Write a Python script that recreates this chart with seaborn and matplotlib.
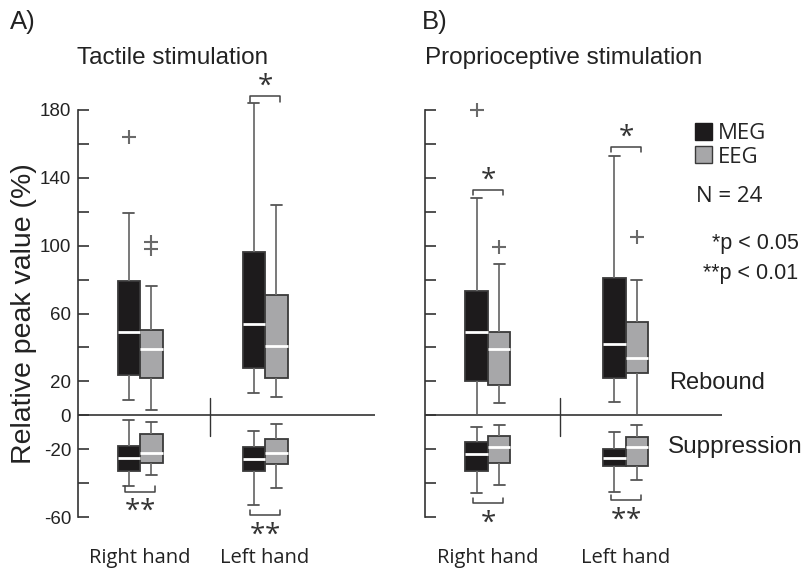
import matplotlib
matplotlib.use("Agg")
import matplotlib.pyplot as plt
from matplotlib.patches import Patch
import pandas as pd
import seaborn as sns

hands = ["Right hand", "Left hand"]
modalities = ["MEG", "EEG"]

# five-number summaries per hand: [whisker low, Q1, median, Q3, whisker high]
tactile_rebound_meg = [[9, 24, 49, 79, 119], [13, 28, 54, 96, 184]]
tactile_rebound_eeg = [[3, 22, 39, 50, 76], [11, 22, 41, 71, 124]]
tactile_suppr_meg = [[-42, -33, -25, -18, -3], [-53, -33, -26, -19, -9]]
tactile_suppr_eeg = [[-35, -28, -22, -11, -4], [-43, -29, -22, -14, -5]]

proprio_rebound_meg = [[0, 20, 49, 73, 128], [8, 22, 42, 81, 153]]
proprio_rebound_eeg = [[7, 18, 39, 49, 89], [0, 25, 34, 55, 80]]
proprio_suppr_meg = [[-46, -33, -23, -16, -7], [-45, -30, -25, -20, -10]]
proprio_suppr_eeg = [[-41, -28, -19, -12, -6], [-38, -30, -19, -13, -6]]

# outliers
tactile_out_hand = ["Right hand", "Right hand", "Right hand"]
tactile_out_mod = ["MEG", "EEG", "EEG"]
tactile_out_val = [164, 102, 98]
proprio_out_hand = ["Right hand", "Right hand", "Left hand"]
proprio_out_mod = ["MEG", "EEG", "EEG"]
proprio_out_val = [180, 99, 105]

# significance brackets
tactile_sig_hand = ["Left hand", "Right hand", "Left hand"]
tactile_sig_y = [188, -45, -59]
tactile_sig_label = ["*", "**", "**"]
proprio_sig_hand = ["Right hand", "Right hand", "Left hand", "Left hand"]
proprio_sig_y = [133, -52, 158, -50]
proprio_sig_label = ["*", "*", "*", "**"]

yticks = list(range(-60, 181, 20))
ylabeled = [180, 140, 100, 60, 20, 0, -20, -60]

MEG_C = "#1d1b1c"
EEG_C = "#a7a7a9"
EDGE = "#3a3a3a"
WHISK = "#6e6e6e"
TXT = "#222222"

ARIAL = ["Liberation Sans", "DejaVu Sans"]
HUMAN = ["Open Sans", "DejaVu Sans"]

sns.set_theme(style="white")
plt.rcParams["font.family"] = ARIAL
plt.rcParams["mathtext.fontset"] = "custom"
plt.rcParams["mathtext.rm"] = "Open Sans"
plt.rcParams["mathtext.it"] = "Open Sans"
plt.rcParams["mathtext.bf"] = "Open Sans:bold"

fig = plt.figure(figsize=(8.08, 5.70), dpi=100)
W, H = 808, 570


def frame(ds_meg, ds_eeg):
    rows = []
    for mod, ds in (("MEG", ds_meg), ("EEG", ds_eeg)):
        for hand, summary in zip(hands, ds):
            for v in summary:
                rows.append({"hand": hand, "modality": mod, "value": v})
    return pd.DataFrame(rows)


def star_text(label):
    # each asterisk as its own group so they sit tightly side by side
    return "$" + "".join("{" + c + "}" for c in label) + "$"


def panel(ax, reb_meg, reb_eeg, sup_meg, sup_eeg, width, xlim, sep,
          out_hand, out_mod, out_val, sig_hand, sig_y, sig_label, show_labels):
    for ds_meg, ds_eeg in ((reb_meg, reb_eeg), (sup_meg, sup_eeg)):
        sns.boxplot(data=frame(ds_meg, ds_eeg), x="hand", y="value",
                    hue="modality", order=hands, hue_order=modalities,
                    palette={"MEG": MEG_C, "EEG": EEG_C}, saturation=1,
                    width=width, gap=0, whis=(0, 100), linecolor=EDGE,
                    linewidth=1.3, legend=False, ax=ax,
                    medianprops=dict(color="white", linewidth=2),
                    whiskerprops=dict(color=WHISK, linewidth=1.3),
                    capprops=dict(color="#555555", linewidth=1.3))
    for art in list(ax.patches) + list(ax.lines):
        art.set_clip_on(False)
    off = width / 4
    for h, m, v in zip(out_hand, out_mod, out_val):
        x = hands.index(h) + (-off if m == "MEG" else off)
        ax.plot(x, v, marker="+", color="#6a6a6a", markersize=10,
                markeredgewidth=1.5, clip_on=False, zorder=5)
    half = width / 3
    for h, y, lab in zip(sig_hand, sig_y, sig_label):
        xc = hands.index(h)
        d = -3 if y > 0 else 3
        ax.plot([xc - half, xc - half, xc + half, xc + half],
                [y + d, y, y, y + d], color="#444444", lw=1.1,
                clip_on=False)
        ty = y + 6 if y > 0 else y - 11.5
        ax.text(xc, ty, star_text(lab), ha="center", va="center",
                fontsize=20, color="#333333", clip_on=False)
    ax.axhline(0, color=TXT, lw=1.1, zorder=0)
    ax.plot([sep, sep], [10, -12], color="#333333", lw=1.0)
    ax.set_xlim(*xlim)
    ax.set_ylim(-60, 180)
    ax.set_yticks(yticks)
    if show_labels:
        ax.set_yticklabels([str(v) if v in ylabeled else "" for v in yticks])
    else:
        ax.set_yticklabels([])
    ax.set_xlabel("")
    ax.set_ylabel("")
    for s in ("top", "right", "bottom"):
        ax.spines[s].set_visible(False)
    ax.spines["left"].set_color("#333333")
    ax.spines["left"].set_linewidth(1.2)
    ax.tick_params(axis="y", direction="in", length=8, width=1.2,
                   colors="#333333", labelsize=13.5, labelcolor=TXT,
                   left=True, pad=5)
    ax.tick_params(axis="x", length=0, labelsize=14.5, pad=22, labelcolor=TXT)
    for lab in ax.get_xticklabels():
        lab.set_family(HUMAN)


bottom = 1 - 517 / H
height = (517 - 110) / H
ax1 = fig.add_axes([78 / W, bottom, 297 / W, height])
ax2 = fig.add_axes([425 / W, bottom, 297 / W, height])

panel(ax1, tactile_rebound_meg, tactile_rebound_eeg, tactile_suppr_meg,
      tactile_suppr_eeg, 0.36, (-0.496, 1.88), 0.56,
      tactile_out_hand, tactile_out_mod, tactile_out_val,
      tactile_sig_hand, tactile_sig_y, tactile_sig_label, True)
panel(ax2, proprio_rebound_meg, proprio_rebound_eeg, proprio_suppr_meg,
      proprio_suppr_eeg, 0.326, (-0.457, 1.70), 0.52,
      proprio_out_hand, proprio_out_mod, proprio_out_val,
      proprio_sig_hand, proprio_sig_y, proprio_sig_label, False)

ax1.set_ylabel("Relative peak value (%)", fontsize=20.5, color=TXT,
               labelpad=2)

fig.text(10 / W, 1 - 22 / H, "A)", fontsize=18.5, va="center", color=TXT)
fig.text(422 / W, 1 - 22 / H, "B)", fontsize=18.5, va="center", color=TXT)
fig.text(77 / W, 1 - 58 / H, "Tactile stimulation", fontsize=17.5,
         va="center", color=TXT)
fig.text(425 / W, 1 - 58 / H, "Proprioceptive stimulation", fontsize=17.5,
         va="center", color=TXT)
fig.text(669 / W, 1 - 383 / H, "Rebound", fontsize=17, va="center",
         color=TXT)
fig.text(668 / W, 1 - 447 / H, "Suppression", fontsize=17.5, va="center",
         color=TXT)

leg = fig.legend(handles=[Patch(facecolor=MEG_C, edgecolor=MEG_C, label="MEG"),
                          Patch(facecolor=EEG_C, edgecolor=EDGE, label="EEG")],
                 loc="upper left", bbox_to_anchor=(695 / W, 1 - 123 / H),
                 frameon=False, handlelength=0.75, handleheight=0.8,
                 handletextpad=0.3, labelspacing=0.1, borderaxespad=0,
                 borderpad=0, prop={"family": HUMAN, "size": 16})
fig.text(696 / W, 1 - 196 / H, "N = 24", fontsize=16, va="center",
         color=TXT, family=HUMAN)
fig.text(799 / W, 1 - 244 / H, "*p < 0.05", fontsize=15.5, va="center",
         ha="right", color=TXT)
fig.text(798 / W, 1 - 274 / H, "**p < 0.01", fontsize=15.5, va="center",
         ha="right", color=TXT)

fig.savefig("out.png", dpi=100)
